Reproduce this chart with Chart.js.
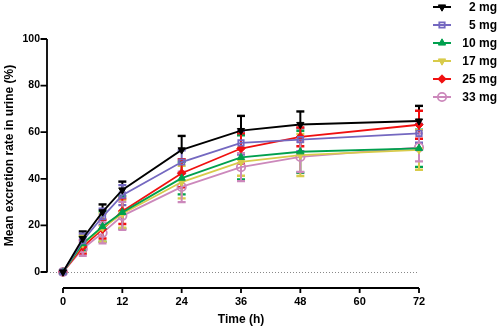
<!DOCTYPE html>
<html>
<head>
<meta charset="utf-8">
<script src="https://cdn.jsdelivr.net/npm/chart.js@4"></script>
<style>
html,body{margin:0;padding:0;background:#fff;}
#wrap{position:relative;width:498px;height:329px;}
</style>
</head>
<body>
<div id="wrap"><canvas id="c" width="498" height="329"></canvas></div>
<script>
// ---- data ----
const times = [0, 4, 8, 12, 24, 36, 48, 72];
const seriesNames = ["2 mg", "5 mg", "10 mg", "17 mg", "25 mg", "33 mg"];
const mean2  = [0, 14.4, 25.8, 35.2, 52.4, 60.7, 63.3, 64.8];
const mean5  = [0, 13.4, 23.7, 33.0, 47.2, 55.4, 56.8, 59.5];
const mean10 = [0, 12.2, 19.5, 25.6, 40.3, 49.2, 51.6, 53.1];
const mean17 = [0, 12.0, 19.0, 25.0, 38.6, 47.3, 50.2, 52.4];
const mean25 = [0, 10.8, 18.4, 26.1, 42.4, 53.0, 58.0, 63.2];
const mean33 = [0, 10.0, 16.8, 24.1, 36.5, 45.0, 49.4, 53.5];
const sd2  = [0, 3.0, 3.2, 3.6, 6.0, 6.3, 5.6, 6.5];
const sd5  = [0, 3.0, 3.5, 4.3, 5.0, 5.0, 5.0, 4.0];
const sd10 = [0, 3.0, 6.5, 7.0, 7.0, 9.5, 9.0, 8.0];
const sd17 = [0, 3.5, 6.0, 6.0, 7.0, 6.0, 9.0, 8.5];
const sd25 = [0, 3.0, 4.0, 5.5, 6.0, 6.5, 4.0, 6.0];
const sd33 = [0, 3.0, 4.5, 6.0, 6.5, 6.0, 6.5, 6.0];
const xTicks = [0, 12, 24, 36, 48, 60, 72];
const yTicks = [0, 20, 40, 60, 80, 100];

const means = [mean2, mean5, mean10, mean17, mean25, mean33];
const sds = [sd2, sd5, sd10, sd17, sd25, sd33];
const colors = ["#000000", "#7468c0", "#00a04e", "#d8cb4a", "#f01010", "#cc88bb"];
const styles = [
  {pointStyle: "triangle", rotation: 180, fill: true},
  {pointStyle: "rect", rotation: 0, fill: false},
  {pointStyle: "triangle", rotation: 0, fill: true},
  {pointStyle: "triangle", rotation: 180, fill: true},
  {pointStyle: "rectRot", rotation: 0, fill: true},
  {pointStyle: "circle", rotation: 0, fill: false}
];
const upOnly = [true, false, false, false, false, false];

const FONT = "'Liberation Sans', Arial, sans-serif";

const datasets = means.map((m, i) => ({
  label: seriesNames[i],
  data: times.map((t, k) => ({x: t, y: m[k]})),
  borderColor: colors[i],
  backgroundColor: styles[i].fill ? colors[i] : "#ffffff",
  pointBorderColor: colors[i],
  pointBackgroundColor: styles[i].fill ? colors[i] : "rgba(255,255,255,0)",
  pointStyle: styles[i].pointStyle,
  rotation: styles[i].rotation,
  pointRadius: i === 1 ? 3.8 : 4.2,
  pointBorderWidth: styles[i].fill ? 1 : 1.8,
  borderWidth: 1.8,
  tension: 0,
  clip: false,
  sd: sds[i],
  upOnly: upOnly[i]
}));

const errorBars = {
  id: "errorBars",
  beforeDatasetsDraw(chart) {
    const ctx = chart.ctx;
    const y = chart.scales.y;
    chart.data.datasets.forEach((ds, di) => {
      const meta = chart.getDatasetMeta(di);
      ctx.save();
      ctx.strokeStyle = ds.borderColor;
      ctx.lineWidth = 2;
      meta.data.forEach((pt, k) => {
        const v = ds.data[k].y, s = ds.sd[k];
        if (!s) return;
        const x = pt.x;
        const yt = y.getPixelForValue(v + s);
        const yb = ds.upOnly ? pt.y : y.getPixelForValue(v - s);
        ctx.beginPath();
        ctx.moveTo(x, yt); ctx.lineTo(x, yb);
        ctx.stroke();
        ctx.lineWidth = 2.4;
        ctx.beginPath();
        ctx.moveTo(x - 4, yt); ctx.lineTo(x + 4, yt);
        if (!ds.upOnly) { ctx.moveTo(x - 4, yb); ctx.lineTo(x + 4, yb); }
        ctx.stroke();
        ctx.lineWidth = 2;
      });
      ctx.restore();
    });
  }
};

const axesPlugin = {
  id: "axesPlugin",
  beforeDatasetsDraw(chart) {
    const ctx = chart.ctx;
    const xs = chart.scales.x, ys = chart.scales.y;
    const ax = 47;
    const y0 = ys.getPixelForValue(0);
    ctx.save();
    ctx.strokeStyle = "#888888";
    ctx.lineWidth = 1;
    ctx.setLineDash([1, 2]);
    ctx.beginPath();
    ctx.moveTo(ax, y0 + 0.5);
    ctx.lineTo(xs.getPixelForValue(72), y0 + 0.5);
    ctx.stroke();
    ctx.setLineDash([]);
    ctx.strokeStyle = "#000";
    ctx.lineWidth = 1.8;
    ctx.beginPath();
    ctx.moveTo(ax, ys.getPixelForValue(100));
    ctx.lineTo(ax, y0);
    yTicks.forEach(v => {
      const py = ys.getPixelForValue(v);
      ctx.moveTo(ax - 6.5, py); ctx.lineTo(ax, py);
    });
    ctx.stroke();
    const axy = 288;
    ctx.beginPath();
    ctx.moveTo(xs.getPixelForValue(0), axy);
    ctx.lineTo(xs.getPixelForValue(72), axy);
    xTicks.forEach(v => {
      const px = xs.getPixelForValue(v);
      ctx.moveTo(px, axy); ctx.lineTo(px, axy + 5);
    });
    ctx.stroke();
    ctx.restore();
  }
};

const legendPlugin = {
  id: "customLegend",
  afterDraw(chart) {
    const ctx = chart.ctx;
    const rows = [7, 25, 43, 61, 79, 97];
    chart.data.datasets.forEach((ds, i) => {
      const yy = rows[i];
      ctx.save();
      ctx.strokeStyle = ds.borderColor;
      ctx.lineWidth = 2;
      ctx.beginPath();
      ctx.moveTo(433, yy); ctx.lineTo(451, yy);
      ctx.stroke();
      ctx.fillStyle = ds.pointBackgroundColor;
      ctx.strokeStyle = ds.pointBorderColor;
      ctx.lineWidth = ds.pointBorderWidth;
      Chart.helpers.drawPoint(ctx, {
        pointStyle: ds.pointStyle,
        rotation: ds.rotation,
        radius: ds.pointRadius,
        borderWidth: ds.pointBorderWidth
      }, 442, yy);
      ctx.fillStyle = "#000";
      ctx.font = "bold 12px " + FONT;
      ctx.textAlign = "right";
      ctx.textBaseline = "middle";
      ctx.fillText(ds.label, 497, yy + 0.5);
      ctx.restore();
    });
  }
};

new Chart(document.getElementById("c"), {
  type: "line",
  data: {datasets},
  options: {
    responsive: false,
    animation: false,
    devicePixelRatio: 1,
    layout: {padding: {top: 39, right: 79, left: 0, bottom: 0}},
    plugins: {legend: {display: false}, tooltip: {enabled: false}},
    scales: {
      x: {
        type: "linear",
        min: 0, max: 72,
        afterFit(s) { s.height = 57; },
        afterBuildTicks(s) { s.ticks = xTicks.map(v => ({value: v})); },
        grid: {display: false, drawTicks: false},
        border: {display: false},
        ticks: {padding: 23, color: "#000", font: {family: FONT, size: 11, weight: "bold"}, maxRotation: 0},
        title: {display: true, text: "Time (h)", color: "#000", padding: {top: 0, bottom: 2}, font: {family: FONT, size: 12, weight: "bold"}}
      },
      y: {
        type: "linear",
        min: 0, max: 100,
        afterFit(s) { s.width = 63; },
        afterBuildTicks(s) { s.ticks = yTicks.map(v => ({value: v})); },
        grid: {display: false, drawTicks: false},
        border: {display: false},
        ticks: {padding: 23, color: "#000", font: {family: FONT, size: 10.5, weight: "bold"}},
        title: {display: true, text: "Mean excretion rate in urine (%)", color: "#000", padding: {top: 2, bottom: 0}, font: {family: FONT, size: 12, weight: "bold"}}
      }
    }
  },
  plugins: [axesPlugin, errorBars, legendPlugin]
});
</script>
</body>
</html>
